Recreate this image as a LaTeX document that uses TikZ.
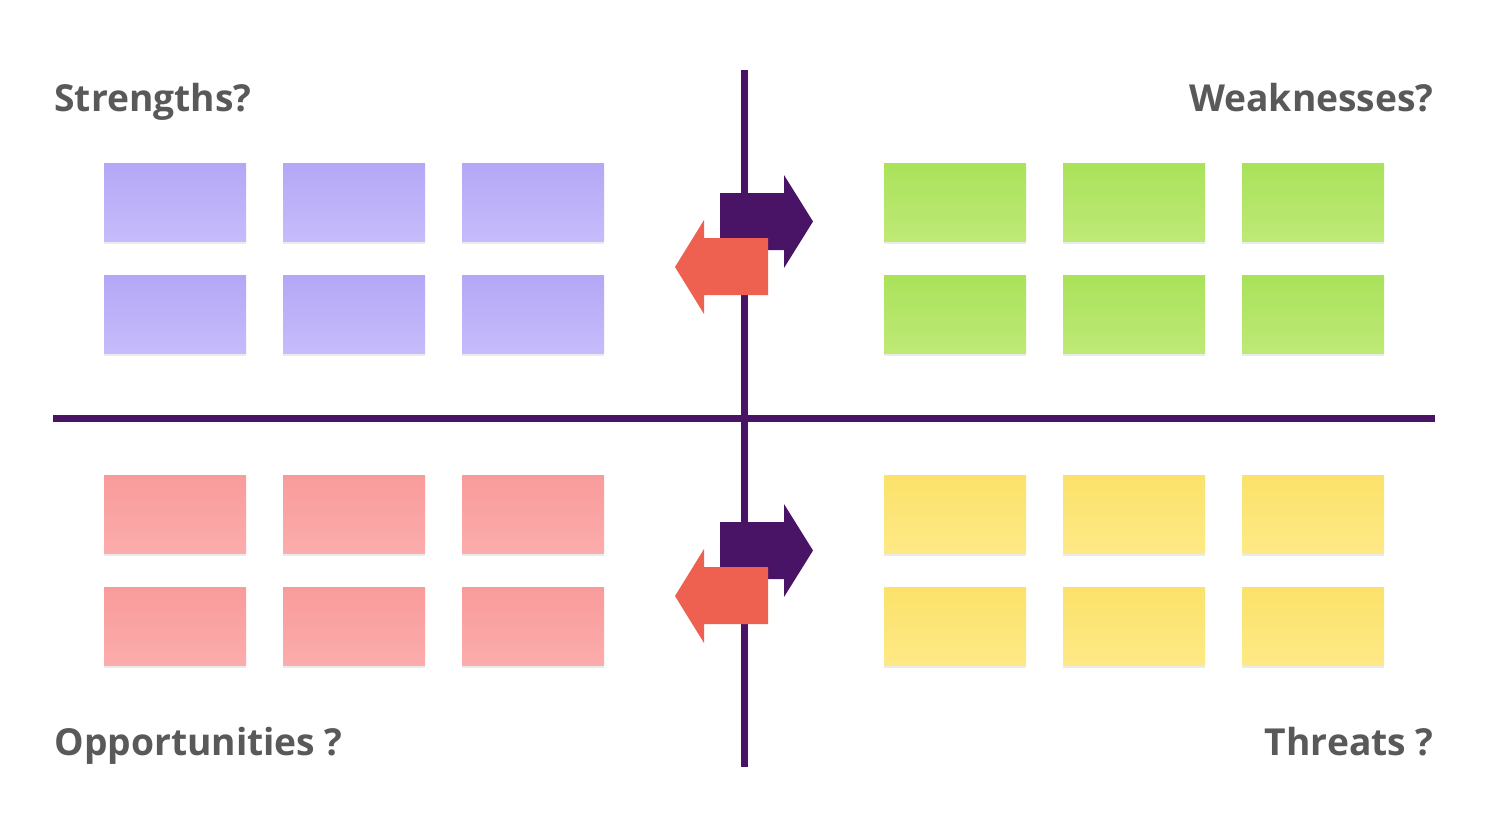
\documentclass[tikz,border=0pt]{standalone}
\usepackage{fontspec}
\setmainfont{Open Sans}
\usetikzlibrary{positioning,shadows}

\definecolor{swotpurple}{HTML}{4A1466}
\definecolor{swotred}{HTML}{EE6151}
\definecolor{swotgray}{HTML}{595959}
\definecolor{strtop}{HTML}{B4A7F6}
\definecolor{strbot}{HTML}{C6BCFB}
\definecolor{weaktop}{HTML}{AAE25A}
\definecolor{weakbot}{HTML}{BEE976}
\definecolor{opptop}{HTML}{F99B9B}
\definecolor{oppbot}{HTML}{FCACAC}
\definecolor{thrtop}{HTML}{FCE26A}
\definecolor{thrbot}{HTML}{FDE986}

\begin{document}
\begin{tikzpicture}[x=0.5pt,y=-0.5pt,node distance=17pt and 18.5pt,
      title/.style={text=swotgray,font=\fontsize{18.6pt}{22pt}\selectfont\bfseries,inner sep=0pt},
      note/.style={rectangle,minimum width=71pt,minimum height=39pt,inner sep=0pt,outer sep=0pt,
        drop shadow={shadow xshift=0.2pt,shadow yshift=-1.4pt,opacity=0.08,fill=black}},
      strength/.style={note,top color=strtop,bottom color=strbot},
      weakness/.style={note,top color=weaktop,bottom color=weakbot},
      opportunity/.style={note,top color=opptop,bottom color=oppbot},
      threat/.style={note,top color=thrtop,bottom color=thrbot},
      axis/.style={draw=swotpurple,line width=3.5pt}
      ]
      \useasboundingbox (0,0) rectangle (1488,837);
      % titles
      \node (ts) [title,anchor=base west] at (54,111)  {Strengths?};
      \node (tw) [title,anchor=base east] at (1434,111) {Weaknesses?};
      \node (to) [title,anchor=base west] at (54,755)  {Opportunities ?};
      \node (tt) [title,anchor=base east] at (1434,755) {Threats ?};
      % axes
      \coordinate (vtop) at (744,70);
      \coordinate (vbot) at (744,767);
      \coordinate (hleft) at (53,418);
      \coordinate (hright) at (1435,418);
      \draw[axis] (vtop) -- (vbot);
      \draw[axis] (hleft) -- (hright);
      % strengths
      \node (s1) [strength] at (175,202) {};
      \node (s2) [strength,right=of s1] {};
      \node (s3) [strength,right=of s2] {};
      \node (s4) [strength,below=of s1] {};
      \node (s5) [strength,right=of s4] {};
      \node (s6) [strength,right=of s5] {};
      % weaknesses
      \node (w1) [weakness] at (955,202) {};
      \node (w2) [weakness,right=of w1] {};
      \node (w3) [weakness,right=of w2] {};
      \node (w4) [weakness,below=of w1] {};
      \node (w5) [weakness,right=of w4] {};
      \node (w6) [weakness,right=of w5] {};
      % opportunities
      \node (o1) [opportunity] at (175,514) {};
      \node (o2) [opportunity,right=of o1] {};
      \node (o3) [opportunity,right=of o2] {};
      \node (o4) [opportunity,below=of o1] {};
      \node (o5) [opportunity,right=of o4] {};
      \node (o6) [opportunity,right=of o5] {};
      % threats
      \node (t1) [threat] at (955,514) {};
      \node (t2) [threat,right=of t1] {};
      \node (t3) [threat,right=of t2] {};
      \node (t4) [threat,below=of t1] {};
      \node (t5) [threat,right=of t4] {};
      \node (t6) [threat,right=of t5] {};
      % exchange arrows
      \fill[swotpurple] (720,193) -- (784,193) -- (784,175) -- (813,221.5) -- (784,268) -- (784,250) -- (720,250) -- cycle;
      \fill[swotred] (768,238) -- (704,238) -- (704,220) -- (675,267) -- (704,314) -- (704,295) -- (768,295) -- cycle;
      \fill[swotpurple] (720,522) -- (784,522) -- (784,504) -- (813,550.5) -- (784,597) -- (784,579) -- (720,579) -- cycle;
      \fill[swotred] (768,567) -- (704,567) -- (704,549) -- (675,596) -- (704,643) -- (704,624) -- (768,624) -- cycle;
    \end{tikzpicture}
\end{document}
